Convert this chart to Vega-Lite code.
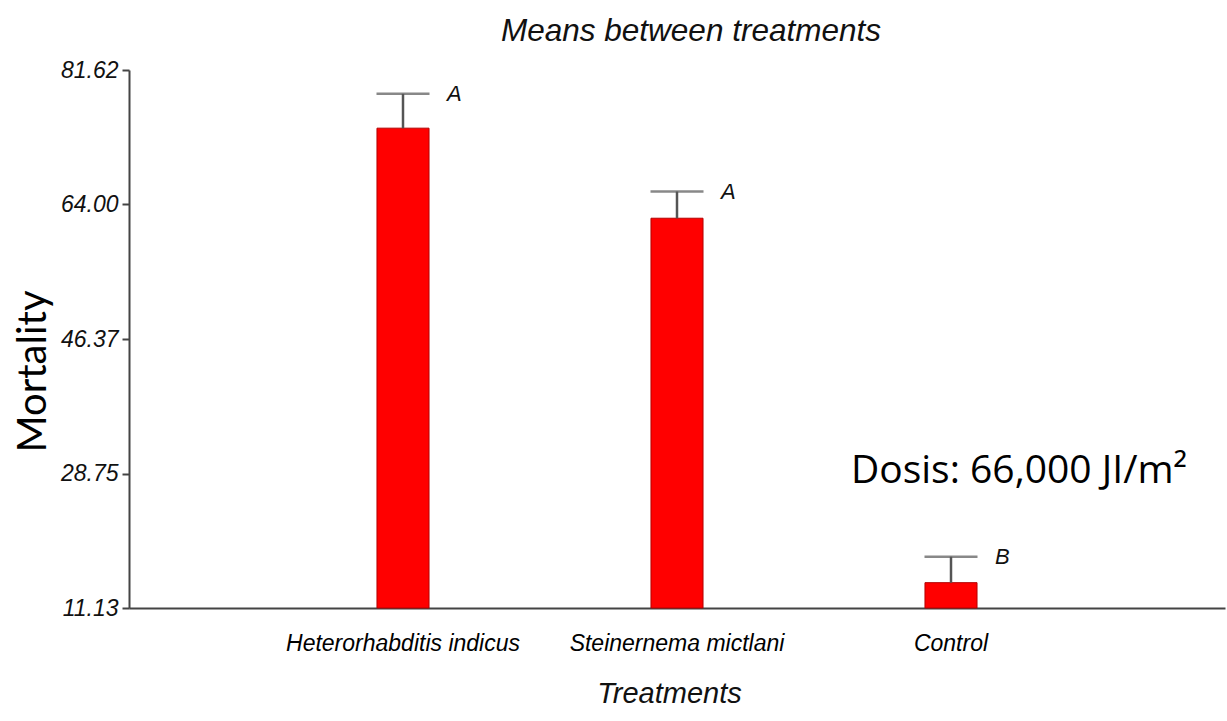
{
  "$schema": "https://vega.github.io/schema/vega-lite/v6.json",
  "width": 1096,
  "height": 538,
  "autosize": {"type": "none"},
  "padding": {"left": 129, "top": 70, "right": 2, "bottom": 113},
  "background": "white",
  "config": {"view": {"stroke": null}},
  "title": {
    "text": "Means between treatments",
    "font": "Liberation Sans",
    "fontStyle": "italic",
    "fontWeight": "normal",
    "fontSize": 31.5,
    "color": "#111",
    "anchor": "middle",
    "dx": 14,
    "baseline": "alphabetic",
    "offset": -13
  },
  "data": {
    "values": [
      {"treatment": "Heterorhabditis indicus", "mortality": 74.0, "upper": 78.5, "group": "A"},
      {"treatment": "Steinernema mictlani", "mortality": 62.2, "upper": 65.7, "group": "A"},
      {"treatment": "Control", "mortality": 14.45, "upper": 17.85, "group": "B"}
    ]
  },
  "encoding": {
    "x": {
      "field": "treatment",
      "type": "nominal",
      "sort": null,
      "scale": {"paddingInner": 0.81, "paddingOuter": 0.905},
      "axis": {
        "title": "Treatments",
        "labelAngle": 0,
        "labelLimit": 0,
        "labelFont": "Liberation Sans",
        "labelFontStyle": "italic",
        "labelFontSize": 23,
        "labelColor": "#000",
        "ticks": false,
        "tickSize": 0,
        "labelPadding": 24,
        "domainColor": "#444",
        "domainWidth": 2,
        "titleFont": "Liberation Sans",
        "titleFontStyle": "italic",
        "titleFontWeight": "normal",
        "titleFontSize": 29,
        "titleColor": "#111",
        "titlePadding": 24,
        "titleX": 540,
        "titleAlign": "center"
      }
    }
  },
  "layer": [
    {
      "mark": {"type": "bar", "color": "#FF0000", "stroke": "#B40000", "strokeWidth": 1},
      "encoding": {
        "y": {
          "field": "mortality",
          "type": "quantitative",
          "title": "Mortality",
          "scale": {"domain": [11.13, 81.62], "nice": false, "zero": false},
          "axis": {
            "values": [11.13, 28.75, 46.37, 64.0, 81.62],
            "format": ".2f",
            "grid": false,
            "labelFont": "Liberation Sans",
            "labelFontStyle": "italic",
            "labelFontSize": 23,
            "labelColor": "#111",
            "labelPadding": 4,
            "labelFlush": false,
            "tickSize": 7,
            "tickColor": "#444",
            "tickWidth": 2,
            "domainColor": "#444",
            "domainWidth": 2,
            "titleFont": "Lato",
            "titleFontSize": 40,
            "titleFontWeight": "normal",
            "titleColor": "#000",
            "titleAngle": -90,
            "titleX": -84,
            "titleY": 301,
            "titleAlign": "center",
            "titleBaseline": "alphabetic"
          }
        },
        "y2": {"datum": 11.13}
      }
    },
    {
      "mark": {"type": "rule", "color": "#555", "strokeWidth": 2.5},
      "encoding": {
        "y": {"field": "mortality", "type": "quantitative", "title": "Mortality"},
        "y2": {"field": "upper"}
      }
    },
    {
      "mark": {"type": "tick", "color": "#555", "thickness": 2.5, "size": 53},
      "encoding": {
        "y": {"field": "upper", "type": "quantitative", "title": "Mortality"}
      }
    },
    {
      "mark": {
        "type": "text",
        "align": "left",
        "baseline": "middle",
        "dx": 44,
        "font": "Liberation Sans",
        "fontStyle": "italic",
        "fontSize": 22,
        "color": "#111"
      },
      "encoding": {
        "y": {"field": "upper", "type": "quantitative", "title": "Mortality"},
        "text": {"field": "group"}
      }
    },
    {
      "data": {"values": [{"treatment": "Control", "level": 27.5, "note": "Dosis: 66,000 JI/m²"}]},
      "mark": {
        "type": "text",
        "align": "center",
        "baseline": "alphabetic",
        "dx": 68,
        "font": "Open Sans",
        "fontSize": 39,
        "color": "#000"
      },
      "encoding": {
        "y": {"field": "level", "type": "quantitative", "title": "Mortality"},
        "text": {"field": "note"}
      }
    }
  ]
}
